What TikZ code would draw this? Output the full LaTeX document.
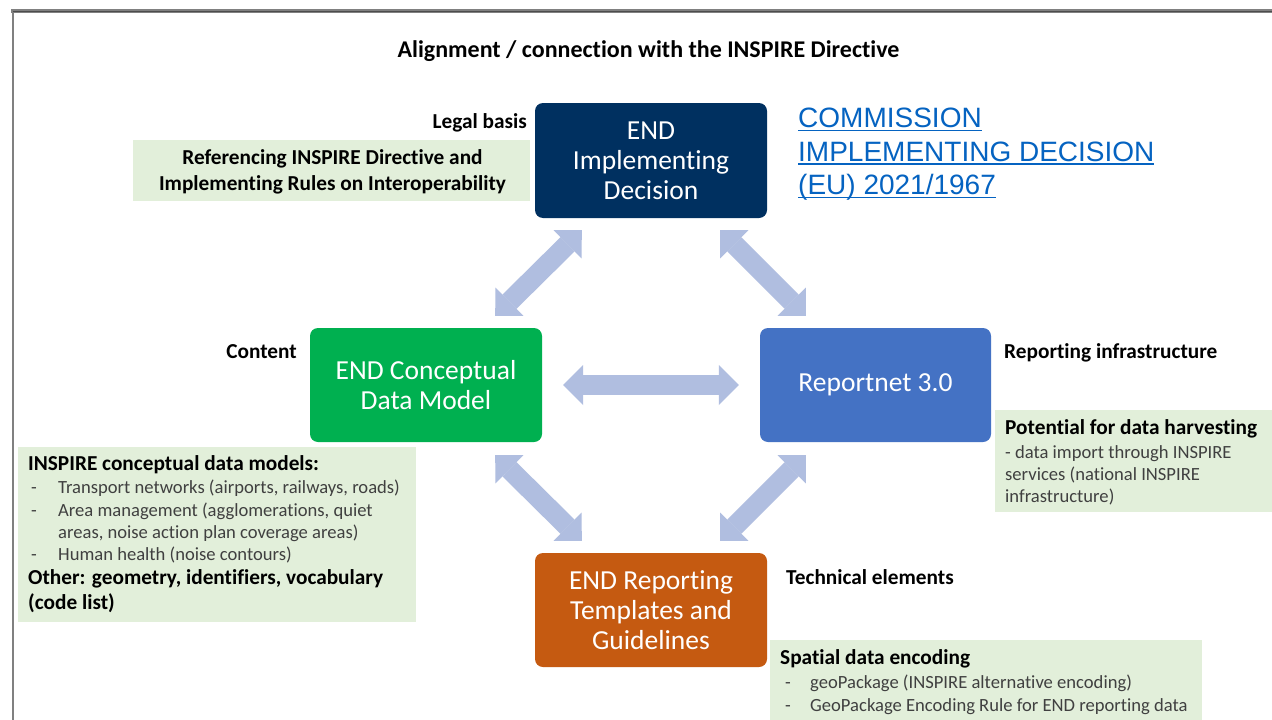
\documentclass[tikz,border=0pt]{standalone}
\usepackage{fontspec}
\setmainfont{Carlito}[Ligatures=NoCommon]
\newfontfamily\linkfont{Liberation Sans}
\newcommand{\myul}[1]{{\setbox0\hbox{#1}\rlap{\rule[-3.5pt]{\wd0}{1.5pt}}\box0}}
\usetikzlibrary{arrows.meta}
\definecolor{navy}{RGB}{0,48,96}
\definecolor{cgreen}{RGB}{0,176,80}
\definecolor{rblue}{RGB}{68,114,196}
\definecolor{orng}{RGB}{197,90,17}
\definecolor{lgreen}{RGB}{226,239,218}
\definecolor{arrowc}{RGB}{176,190,224}
\definecolor{linkblue}{RGB}{5,99,193}
\definecolor{framegray}{RGB}{128,128,128}
\definecolor{regtext}{RGB}{64,64,64}
\tikzset{
 mainbox/.style={rectangle, rounded corners=8pt, minimum width=232pt, minimum height=115pt, text=white, align=center, font=\fontsize{27.5}{30}\selectfont, inner sep=0pt},
 notebox/.style={rectangle, fill=lgreen, inner sep=0pt},
 lbl/.style={font=\fontsize{21.3}{25}\selectfont\bfseries, inner sep=0pt, text=black},
 reg/.style={font=\fontsize{18.6}{22}\selectfont, inner sep=0pt, text=regtext},
 bigarrow/.style={line width=20pt, draw=arrowc, {Triangle[width=40pt,length=20pt,line width=0pt]}-{Triangle[width=40pt,length=20pt,line width=0pt]}},
}
\begin{document}
\begin{tikzpicture}[x=1pt,y=-1pt]
\useasboundingbox (0,0) rectangle (1272,720);
\fill[white] (0,0) rectangle (1272,720);
% frame
\draw[framegray, line width=2.5pt] (13,9) -- (13,720);
\draw[framegray, line width=4pt] (11,11) -- (1272,11);
\draw[black!70, line width=1pt] (13,11) -- (1272,11);

\node[lbl, anchor=base, font=\fontsize{24}{28}\selectfont\bfseries] (title) at (648.5,57) {Alignment / connection with the INSPIRE Directive};

% top
\node[mainbox, fill=navy] (eid) at (651,160.5) {END\\Implementing\\Decision};
\node[notebox, minimum width=397pt, minimum height=61pt] (refbox) at (331.5,170.5) {};
\node[lbl, align=center, font=\fontsize{21.3}{26}\selectfont\bfseries] (reftxt) at (332.5,172) {Referencing INSPIRE Directive and\\Implementing Rules on Interoperability};
\node[lbl, anchor=base east] (legal) at (527,128) {Legal basis};
\node[anchor=north west, inner sep=0pt, align=left, text=linkblue, font=\linkfont\fontsize{28}{33.5}\selectfont] (link) at (798,108) {\myul{COMMISSION}\\\myul{IMPLEMENTING DECISION}\\\myul{(EU) 2021/1967}};

% middle
\node[mainbox, fill=cgreen, minimum height=114pt] (cdm) at (426,385) {END Conceptual\\Data Model};
\node[lbl, anchor=base east] (content) at (297,358) {Content};
\node[mainbox, fill=rblue, minimum width=231pt, minimum height=114pt] (rep) at (875.5,385) {Reportnet 3.0};
\node[lbl, anchor=base west] (repinf) at (1004,358) {Reporting infrastructure};

\node[notebox, minimum width=277pt, minimum height=102pt] (potbox) at (1133.5,461) {};
\node[lbl, anchor=base west] (pot1) at (1005,434) {Potential for data harvesting};
\node[reg, anchor=base west] (pot2) at (1005,458) {- data import through INSPIRE};
\node[reg, anchor=base west] (pot3) at (1005,480) {services (national INSPIRE};
\node[reg, anchor=base west] (pot4) at (1005,502) {infrastructure)};

\node[notebox, minimum width=398pt, minimum height=175pt] (insbox) at (217,534.5) {};
\node[lbl, anchor=base west] (in1) at (28,470) {INSPIRE conceptual data models:};
\node[reg, anchor=base west] (in2) at (31,493) {\makebox[27pt][l]{-}Transport networks (airports, railways, roads)};
\node[reg, anchor=base west] (in3) at (31,516) {\makebox[27pt][l]{-}Area management (agglomerations, quiet};
\node[reg, anchor=base west] (in4) at (58,538) {areas, noise action plan coverage areas)};
\node[reg, anchor=base west] (in5) at (31,560) {\makebox[27pt][l]{-}Human health (noise contours)};
\node[lbl, anchor=base west] (in6) at (28,584) {Other: geometry, identifiers, vocabulary};
\node[lbl, anchor=base west] (in7) at (28,609) {(code list)};

% bottom
\node[mainbox, fill=orng, minimum height=114pt] (ert) at (651,610) {END Reporting\\Templates and\\Guidelines};
\node[lbl, anchor=base west] (tech) at (786,584) {Technical elements};
\node[notebox, minimum width=432pt, minimum height=80pt] (spbox) at (986,680) {};
\node[lbl, anchor=base west] (sp1) at (780,664) {Spatial data encoding};
\node[reg, anchor=base west] (sp2) at (785,688) {\makebox[25pt][l]{-}geoPackage (INSPIRE alternative encoding)};
\node[reg, anchor=base west] (sp3) at (785,711) {\makebox[25pt][l]{-}GeoPackage Encoding Rule for END reporting data};

% arrows
\draw[bigarrow] ([shift={(-47,-12)}]cdm.north east) -- ([shift={(47,12)}]eid.south west);
\draw[bigarrow] ([shift={(-47,12)}]eid.south east) -- ([shift={(46,-12)}]rep.north west);
\draw[bigarrow] ([shift={(21,0)}]cdm.east) -- ([shift={(-21,0)}]rep.west);
\draw[bigarrow] ([shift={(-47,13)}]cdm.south east) -- ([shift={(47,-12)}]ert.north west);
\draw[bigarrow] ([shift={(46,13)}]rep.south west) -- ([shift={(-47,-12)}]ert.north east);
\end{tikzpicture}
\end{document}
